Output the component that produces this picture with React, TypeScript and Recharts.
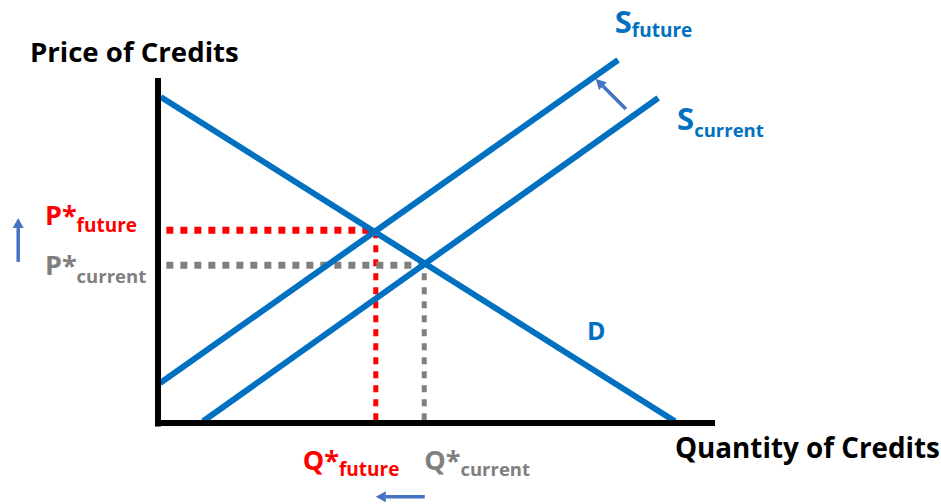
import React from 'react';
import { LineChart, Line, XAxis, YAxis, ReferenceLine, ReferenceDot } from 'recharts';

// Curves (quantity, price) in chart units
const demandLine = [
  { x: 0.5, y: 94.5 },
  { x: 92.8, y: 0.5 },
];
const supplyFuture = [
  { x: 0.4, y: 11.6 },
  { x: 82.6, y: 105.2 },
];
const supplyCurrent = [
  { x: 8.1, y: 0.5 },
  { x: 89.8, y: 94.2 },
];

// Equilibria
const qFuture = 39.1;
const pFuture = 55.9;
const qCurrent = 47.8;
const pCurrent = 45.7;

// Axis extents
const axisMaxQ = 100;
const axisMaxP = 100;

const BLUE = '#0070C0';
const RED = '#FF0000';
const GRAY = '#808080';
const ARROW = '#4472C4';
const FONT = '"Open Sans", Calibri, Lato, sans-serif';

type LabelSpec = {
  key: string;
  x: number;
  y: number;
  main: string;
  sub?: string;
  color: string;
  size: number;
  subSize?: number;
  dy?: number;
};

const labels: LabelSpec[] = [
  { key: 'ptitle', x: -23.0, y: 104.6, main: 'Price of Credits', color: '#000', size: 27.6 },
  { key: 'qtitle', x: 92.8, y: -10.1, main: 'Quantity of Credits', color: '#000', size: 27.8 },
  { key: 'sf', x: 82.0, y: 113.0, main: 'S', sub: 'future', color: BLUE, size: 31, subSize: 19, dy: 4 },
  { key: 'sc', x: 93.2, y: 84.9, main: 'S', sub: 'current', color: BLUE, size: 31, subSize: 18.5, dy: 7 },
  { key: 'd', x: 77.0, y: 24.1, main: 'D', color: BLUE, size: 25 },
  { key: 'pf', x: -20.3, y: 57.4, main: 'P*', sub: 'future', color: RED, size: 27, subSize: 19, dy: 7 },
  { key: 'pc', x: -20.3, y: 42.9, main: 'P*', sub: 'current', color: GRAY, size: 27, subSize: 18.5, dy: 8 },
  { key: 'qf', x: 26.0, y: -13.6, main: 'Q*', sub: 'future', color: RED, size: 27, subSize: 19, dy: 6 },
  { key: 'qc', x: 47.8, y: -13.6, main: 'Q*', sub: 'current', color: GRAY, size: 27, subSize: 18.5, dy: 6 },
];

type ArrowSpec = { key: string; from: { x: number; y: number }; to: { x: number; y: number } };
const arrows: ArrowSpec[] = [
  { key: 'up', from: { x: -25.1, y: 46.7 }, to: { x: -25.1, y: 59.4 } },
  { key: 'left', from: { x: 47.9, y: -21.4 }, to: { x: 39.1, y: -21.4 } },
  { key: 'shift', from: { x: 84.0, y: 91.0 }, to: { x: 78.6, y: 99.7 } },
];

const renderLabel = (l: LabelSpec) => (
  <ReferenceDot
    key={l.key}
    x={l.x}
    y={l.y}
    r={0}
    ifOverflow="visible"
    shape={(p: any) => (
      <text
        x={p.cx}
        y={p.cy}
        fill={l.color}
        fontFamily={FONT}
        fontWeight={700}
        fontSize={l.size}
        textAnchor="start"
      >
        <tspan>{l.main}</tspan>
        {l.sub ? (
          <tspan fontSize={l.subSize} dy={l.dy}>
            {l.sub}
          </tspan>
        ) : null}
      </text>
    )}
  />
);

const arrowShape = (p: any) => {
  const { x1, y1, x2, y2 } = p;
  const dx = x2 - x1;
  const dy = y2 - y1;
  const len = Math.sqrt(dx * dx + dy * dy) || 1;
  const ux = dx / len;
  const uy = dy / len;
  const head = 10;
  const half = 5.5;
  const bx = x2 - ux * head;
  const by = y2 - uy * head;
  const px = -uy;
  const py = ux;
  return (
    <g>
      <line x1={x1} y1={y1} x2={bx} y2={by} stroke={ARROW} strokeWidth={3.5} />
      <polygon
        points={`${x2},${y2} ${bx + px * half},${by + py * half} ${bx - px * half},${by - py * half}`}
        fill={ARROW}
      />
    </g>
  );
};

export default function App() {
  return (
    <div style={{ position: 'absolute', left: 0, top: 0, width: 941, height: 504, background: '#fff' }}>
      <LineChart
        width={941}
        height={504}
        margin={{ top: 9, right: 226, bottom: 81, left: 158 }}
      >
        <XAxis type="number" dataKey="x" domain={[0, 100]} hide allowDataOverflow />
        <YAxis type="number" dataKey="y" domain={[0, 120]} hide allowDataOverflow />

        {/* dotted equilibrium guides */}
        <ReferenceLine
          segment={[{ x: 1.5, y: pFuture }, { x: qFuture, y: pFuture }]}
          stroke={RED}
          strokeWidth={7}
          strokeDasharray="7 7"
          ifOverflow="visible"
        />
        <ReferenceLine
          segment={[{ x: qFuture, y: 0.8 }, { x: qFuture, y: pFuture }]}
          stroke={RED}
          strokeWidth={5}
          strokeDasharray="7 7"
          ifOverflow="visible"
        />
        <ReferenceLine
          segment={[{ x: 1.5, y: pCurrent }, { x: qCurrent, y: pCurrent }]}
          stroke={GRAY}
          strokeWidth={7}
          strokeDasharray="7 7"
          ifOverflow="visible"
        />
        <ReferenceLine
          segment={[{ x: qCurrent, y: 0.8 }, { x: qCurrent, y: pCurrent }]}
          stroke={GRAY}
          strokeWidth={5}
          strokeDasharray="7 7"
          ifOverflow="visible"
        />

        <Line data={demandLine} dataKey="y" type="linear" stroke={BLUE} strokeWidth={6} dot={false} isAnimationActive={false} />
        <Line data={supplyFuture} dataKey="y" type="linear" stroke={BLUE} strokeWidth={6} dot={false} isAnimationActive={false} />
        <Line data={supplyCurrent} dataKey="y" type="linear" stroke={BLUE} strokeWidth={6} dot={false} isAnimationActive={false} />

        {/* axes */}
        <ReferenceLine
          segment={[{ x: 0, y: -1 }, { x: 0, y: axisMaxP }]}
          stroke="#000"
          strokeWidth={6}
          ifOverflow="visible"
        />
        <ReferenceLine
          segment={[{ x: -0.5, y: 0 }, { x: axisMaxQ, y: 0 }]}
          stroke="#000"
          strokeWidth={6}
          ifOverflow="visible"
        />

        {arrows.map((a) => (
          <ReferenceLine key={a.key} segment={[a.from, a.to]} ifOverflow="visible" shape={arrowShape} />
        ))}

        {labels.map(renderLabel)}
      </LineChart>
    </div>
  );
}
